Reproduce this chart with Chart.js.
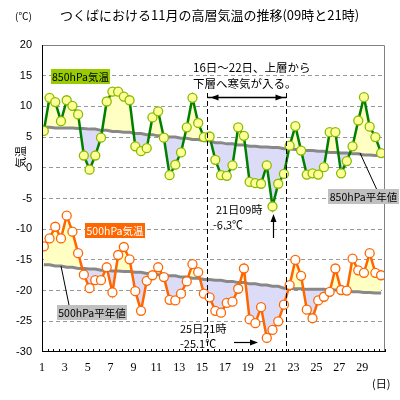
<!DOCTYPE html>
<html><head><meta charset="utf-8">
<script src="https://cdn.jsdelivr.net/npm/chart.js@4/dist/chart.umd.min.js"></script>
<style>html,body{margin:0;padding:0;background:#fff}</style>
</head><body>
<canvas id="c" width="400" height="400"></canvas>
<script>
// ---- data ----
const dayTicks = [1,3,5,7,9,11,13,15,17,19,21,23,25,27,29];
const obsHours = [9, 21];
const temp850 = [6.0,11.4,10.7,7.6,11.0,10.1,8.7,2.0,-0.3,2.0,4.9,10.8,12.4,12.4,11.6,11.0,3.5,2.7,3.2,8.2,
  9.2,4.9,-1.2,0.5,2.5,6.6,11.4,7.3,5.0,5.1,1.3,-1.2,-1.3,0.4,6.6,5.2,-2.3,-2.5,-2.6,0.4,
  -6.3,-2.6,-1.0,3.6,6.8,2.8,-1.1,-0.9,-1.1,0.1,5.8,5.8,-0.9,1.1,3.5,7.7,11.5,6.7,5.0,2.4];
const temp500 = [-12.8,-11.5,-9.6,-11.5,-7.8,-10.4,-13.9,-17.4,-19.6,-18.3,-18.3,-16.2,-20.3,-14.2,-12.9,-14.9,-20.1,-23.3,-18.4,-17.5,
  -16.2,-17.8,-21.5,-21.6,-20.5,-18.5,-15.7,-17.0,-20.5,-21.1,-23.3,-23.6,-22.0,-21.8,-19.7,-16.4,-24.7,-25.3,-22.7,-27.7,
  -26.4,-25.0,-22.3,-19.1,-15.0,-17.6,-23.1,-24.5,-21.6,-21.0,-20.2,-16.4,-19.9,-20.0,-14.8,-16.7,-17.1,-13.9,-17.1,-17.5];
const normal850Daily = [6.6,6.5,6.5,6.4,6.3,6.1,5.9,5.8,5.6,5.4,5.2,5.0,4.8,4.6,4.4,4.1,3.9,3.7,3.5,3.4,3.3,3.1,3.0,2.8,2.7,2.5,2.4,2.3,2.1,2.0];
const normal500Daily = [-15.8,-16.0,-16.2,-16.4,-16.5,-16.7,-16.8,-16.9,-17.0,-17.2,-17.4,-17.6,-17.8,-18.0,-18.2,-18.3,-18.5,-18.7,-18.9,-19.1,-19.3,-19.6,-19.7,-19.8,-19.8,-19.9,-20.0,-20.2,-20.3,-20.4];

// observation i -> x position on the day axis
const hourOffset = {9: 0.16, 21: 0.66};
function obsX(i){ return Math.floor(i/2) + 1 + hourOffset[obsHours[i%2]]; }
const pts = arr => arr.map((v,i)=>({x: obsX(i), y: v}));
const dailyPts = arr => { const out=[]; arr.forEach((v,d)=>{ obsHours.forEach(h=>out.push({x:d+1+hourOffset[h], y:v})); }); return out; };

const JP = '"Noto Sans CJK JP", sans-serif';

const annot = {
  id:'annot',
  afterDatasetsDraw(chart){
    const {ctx, chartArea:a, scales:{x,y}} = chart;
    ctx.save();
    // borders
    ctx.lineWidth = 1;
    ctx.strokeStyle = '#808080';
    ctx.beginPath(); ctx.moveTo(a.left, a.top+0.5); ctx.lineTo(a.right-0.5, a.top+0.5); ctx.lineTo(a.right-0.5, a.bottom); ctx.stroke();
    ctx.strokeStyle = '#000';
    ctx.beginPath(); ctx.moveTo(a.left+0.5, a.top); ctx.lineTo(a.left+0.5, a.bottom-0.5); ctx.lineTo(a.right, a.bottom-0.5); ctx.stroke();
    // minor ticks
    ctx.beginPath();
    for (let v=1; v<=31.001; v+=0.5){ const px=Math.round(x.getPixelForValue(v))+0.5; ctx.moveTo(px, a.bottom); ctx.lineTo(px, a.bottom-3); }
    ctx.stroke();

    // period lines
    const xl = Math.round(x.getPixelForValue(15.44))+0.5, xr = Math.round(x.getPixelForValue(22.33))+0.5;
    ctx.setLineDash([5,3]);
    ctx.beginPath(); ctx.moveTo(xl, 93); ctx.lineTo(xl, a.bottom); ctx.moveTo(xr, 93); ctx.lineTo(xr, a.bottom); ctx.stroke();
    ctx.setLineDash([]);
    // double arrow
    ctx.lineWidth = 1.5;
    ctx.beginPath(); ctx.moveTo(xl, 97.5); ctx.lineTo(xr, 97.5); ctx.stroke();
    const head = (tx, ty, dir, horiz) => {
      ctx.beginPath();
      if (horiz){ ctx.moveTo(tx, ty); ctx.lineTo(tx - dir*8, ty-3); ctx.lineTo(tx - dir*8, ty+3); }
      else { ctx.moveTo(tx, ty); ctx.lineTo(tx-3, ty - dir*8); ctx.lineTo(tx+3, ty - dir*8); }
      ctx.closePath(); ctx.fill();
    };
    ctx.fillStyle = '#000';
    head(xl+3, 97.5, -1, true);
    head(xr-3, 97.5, 1, true);

    // text (alphabetic baseline)
    ctx.fillStyle = '#000';
    ctx.textBaseline = 'alphabetic';
    ctx.font = '13px ' + JP; ctx.textAlign = 'left';
    ctx.fillText('つくばにおける11月の高層気温の推移(09時と21時)', 60, 20);
    ctx.font = '10px ' + JP;
    ctx.fillText('(℃)', 15, 20);
    ctx.font = '11.5px ' + JP;
    ctx.fillText('16日～22日、上層から', 193, 72);
    ctx.fillText('下層へ寒気が入る。', 193, 88);
    ctx.font = '11px ' + JP;
    ctx.fillText('21日09時', 216, 214);
    ctx.fillText('-6.3℃', 213, 229);
    ctx.fillText('25日21時', 180, 333);
    ctx.fillText('-25.1℃', 180, 348);
    ctx.fillText('(日)', 372, 388);
    // y title
    ctx.save(); ctx.translate(25, 157); ctx.rotate(-Math.PI/2); ctx.textAlign='center'; ctx.fillText('気温', 0, 0); ctx.restore();

    // arrows near notes
    ctx.lineWidth = 1.2;
    ctx.beginPath(); ctx.moveTo(273.5, 238); ctx.lineTo(273.5, 222); ctx.stroke();
    head(273.5, 214, -1, false);
    ctx.beginPath(); ctx.moveTo(234, 342.5); ctx.lineTo(250, 342.5); ctx.stroke();
    head(258, 342.5, 1, true);

    // label boxes
    const box = (txt, x0, y0, w, h, bg, fg) => {
      ctx.fillStyle = bg; ctx.fillRect(x0, y0, w, h);
      ctx.fillStyle = fg; ctx.textAlign='center'; ctx.fillText(txt, x0+w/2, y0+h-3.5);
    };
    ctx.font = '10.5px ' + JP;
    box('850hPa気温', 51, 69, 59, 15, '#99cc00', '#000');
    box('500hPa気温', 85, 223, 60, 15, '#ff6600', '#fff');
    // leader lines
    ctx.strokeStyle = '#000'; ctx.lineWidth = 1;
    ctx.beginPath(); ctx.moveTo(360, 153); ctx.lineTo(377, 190); ctx.moveTo(61, 266); ctx.lineTo(69, 305); ctx.stroke();
    box('850hPa平年値', 328, 189, 71, 15, '#c0c0c0', '#000');
    box('500hPa平年値', 57, 305, 70, 15, '#c0c0c0', '#000');
    ctx.restore();
  }
};

new Chart(document.getElementById('c'), {
  type: 'line',
  data: { datasets: [
    { data: pts(temp850), borderColor:'#008000', borderWidth:2.5, pointRadius:4.5, pointBackgroundColor:'#ffff99', pointBorderColor:'#88bb00', pointBorderWidth:1.3,
      fill:{target:1, above:'#ffffc4', below:'#dcdcf8'}, tension:0 },
    { data: dailyPts(normal850Daily), borderColor:'#888', borderWidth:3, pointRadius:0, fill:false },
    { data: pts(temp500), borderColor:'#ff6600', borderWidth:2.5, pointRadius:4.5, pointBackgroundColor:'#fff', pointBorderColor:'#ff6600', pointBorderWidth:1.3,
      fill:{target:3, above:'#ffffc4', below:'#dcdcf8'}, tension:0 },
    { data: dailyPts(normal500Daily), borderColor:'#888', borderWidth:3, pointRadius:0, fill:false }
  ]},
  options: {
    responsive:false, animation:false, devicePixelRatio:1,
    layout:{padding:{left:0, right:15, top:45, bottom:0}},
    plugins:{ legend:{display:false}, tooltip:{enabled:false}, filler:{drawTime:'beforeDatasetsDraw'} },
    scales:{
      x:{ type:'linear', min:1, max:31,
        afterFit(s){ s.height = 48; },
        afterBuildTicks(s){ s.ticks = dayTicks.map(v=>({value:v})); },
        ticks:{ font:{family:'"Liberation Serif"', size:12}, color:'#000', padding:9, autoSkip:false, maxRotation:0 },
        grid:{ display:false, drawTicks:false }, border:{display:false} },
      y:{ min:-30, max:20,
        afterFit(s){ s.width = 42; },
        ticks:{ stepSize:5, font:{family:'"Liberation Sans"', size:11}, color:'#000', padding:10 },
        grid:{ color: c => (c.tick && (c.tick.value===20 || c.tick.value===-30)) ? 'rgba(0,0,0,0)' : '#999', drawTicks:false, lineWidth:1 },
        border:{ display:false, dash:[4,3] } }
    }
  },
  plugins:[annot]
});
</script>
</body></html>
